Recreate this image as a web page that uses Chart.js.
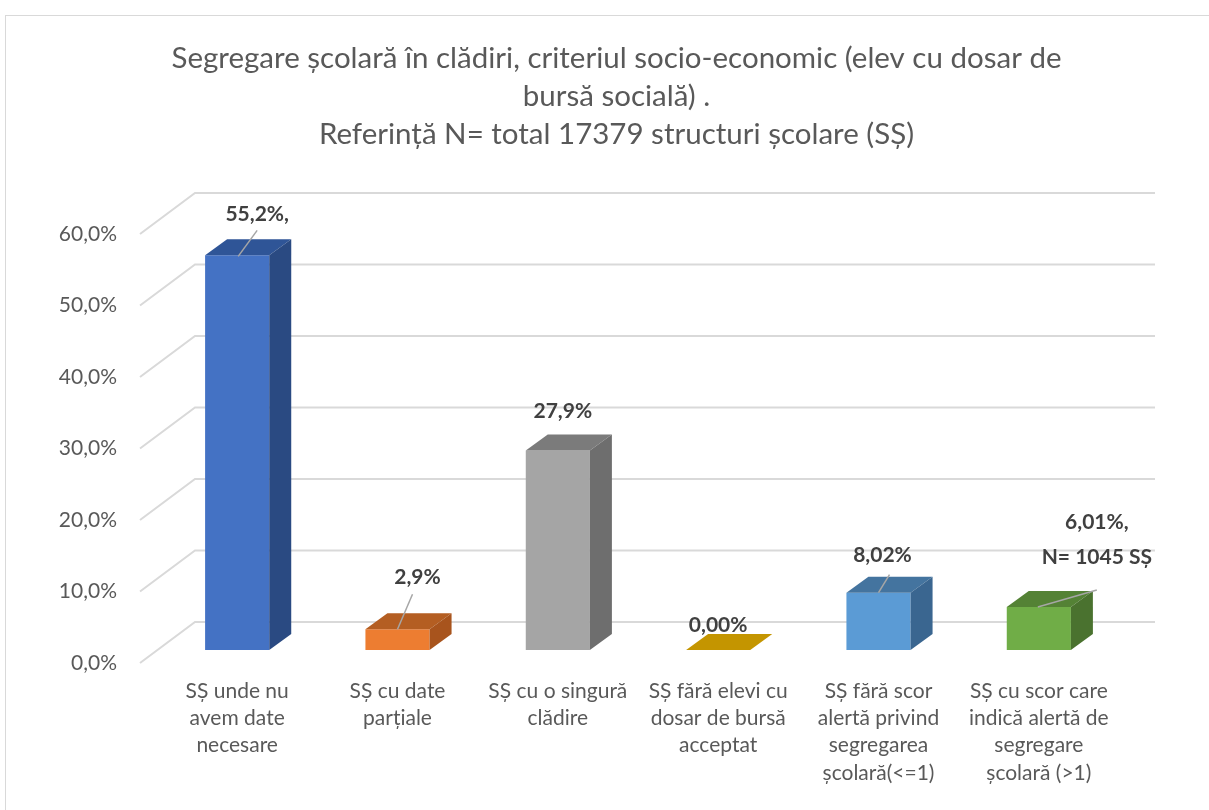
<!DOCTYPE html>
<html>
<head>
<meta charset="utf-8">
<script src="https://cdn.jsdelivr.net/npm/chart.js@4.4.1/dist/chart.umd.min.js"></script>
<style>
  body { margin: 0; background: #fff; overflow: hidden; }
  #frame { position: absolute; left: 5px; top: 15px; width: 1400px; height: 1000px; border: 1.5px solid #d9d9d9; }
  #wrap { position: absolute; left: 0; top: 0; width: 1209px; height: 810px; }
</style>
</head>
<body>
<div id="frame"></div>
<div id="wrap"><canvas id="chart" width="1209" height="810"></canvas></div>
<script>
// ---------- DATA ----------
const titleLines = [
  "Segregare școlară în clădiri, criteriul socio-economic (elev cu dosar de",
  "bursă socială) .",
  "Referință N= total 17379 structuri școlare (SȘ)"
];

const categories = [
  ["SȘ unde nu", "avem date", "necesare"],
  ["SȘ cu date", "parțiale"],
  ["SȘ cu o singură", "clădire"],
  ["SȘ fără elevi cu", "dosar de bursă", "acceptat"],
  ["SȘ fără scor", "alertă privind", "segregarea", "școlară(<=1)"],
  ["SȘ cu scor care", "indică alertă de", "segregare", "școlară (>1)"]
];

const values = [55.2, 2.9, 27.9, 0, 8.02, 6.01];
const valueLabels = [["55,2%,"], ["2,9%"], ["27,9%"], ["0,00%"], ["8,02%"], ["6,01%,", "N= 1045 SȘ"]];

const yMin = 0;
const yMax = 60;
const yStep = 10;

// ---------- STYLE ----------
const frontColors = ["#4472C4", "#ED7D31", "#A5A5A5", "#FFC000", "#5B9BD5", "#70AD47"];
const topColors = ["#2F5597", "#B45E22", "#7B7B7B", "#C49500", "#44749F", "#548235"];
const sideColors = ["#2A4A82", "#A8541D", "#6E6E6E", "#B08600", "#3A6690", "#4A722F"];

// label offset from the bar's front top centre, and leader line (from, to) in the same frame
const labelShift = [[20, -41], [20, -52], [5, -39], [0, -25], [4, -37], [58, -67]];
const leaders = [[[1, 1], [20, -25]], [[0, 0], [15, -35]], null, null, [[0, 0], [11, -18]], [[-1, 0], [58, -17]]];

const FONT = "Lato, 'Open Sans', sans-serif";
const depth = { dx: 22, dy: -16 };

// back wall + diagonal gridlines
const wallPlugin = {
  id: "wall",
  beforeDatasetsDraw(chart) {
    const ctx = chart.ctx;
    const y = chart.scales.y;
    const area = chart.chartArea;
    ctx.save();
    ctx.strokeStyle = "#d9d9d9";
    ctx.lineWidth = 2;
    for (let v = yMin; v <= yMax; v += yStep) {
      const py = y.getPixelForValue(v);
      ctx.beginPath();
      ctx.moveTo(area.left - 17, py + 13);
      ctx.lineTo(area.left + 38, py - 28);
      ctx.lineTo(area.right + 36, py - 28);
      ctx.stroke();
    }
    ctx.restore();
  }
};

// 3D faces and data labels
const boxPlugin = {
  id: "box3d",
  afterDatasetsDraw(chart) {
    const ctx = chart.ctx;
    ctx.save();
    chart.getDatasetMeta(0).data.forEach((bar, i) => {
      const l = bar.x - bar.width / 2, r = bar.x + bar.width / 2, t = bar.y, b = bar.base;
      ctx.fillStyle = topColors[i];
      ctx.beginPath();
      ctx.moveTo(l, t);
      ctx.lineTo(l + depth.dx, t + depth.dy);
      ctx.lineTo(r + depth.dx, t + depth.dy);
      ctx.lineTo(r, t);
      ctx.closePath();
      ctx.fill();
      ctx.fillStyle = sideColors[i];
      ctx.beginPath();
      ctx.moveTo(r, t);
      ctx.lineTo(r + depth.dx, t + depth.dy);
      ctx.lineTo(r + depth.dx, b + depth.dy);
      ctx.lineTo(r, b);
      ctx.closePath();
      ctx.fill();
    });

    chart.getDatasetMeta(0).data.forEach((bar, i) => {
      const ld = leaders[i];
      if (ld) {
        ctx.strokeStyle = "#a6a6a6";
        ctx.lineWidth = 1.5;
        ctx.beginPath();
        ctx.moveTo(bar.x + ld[0][0], bar.y + ld[0][1]);
        ctx.lineTo(bar.x + ld[1][0], bar.y + ld[1][1]);
        ctx.stroke();
      }
      const lines = valueLabels[i];
      const cx = bar.x + labelShift[i][0];
      const cy = bar.y + labelShift[i][1];
      ctx.fillStyle = "#404040";
      ctx.font = "bold 21px " + FONT;
      ctx.textAlign = "center";
      ctx.textBaseline = "middle";
      const lh = 35;
      lines.forEach((s, k) => {
        ctx.fillText(s, cx, cy + (k - (lines.length - 1) / 2) * lh);
      });
    });
    ctx.restore();
  }
};

new Chart(document.getElementById("chart"), {
  type: "bar",
  data: {
    labels: categories,
    datasets: [{
      data: values,
      backgroundColor: frontColors,
      borderWidth: 0,
      categoryPercentage: 1,
      barPercentage: 0.4
    }]
  },
  options: {
    responsive: false,
    animation: false,
    layout: { padding: { left: 30, right: 6, top: 0, bottom: 0 } },
    plugins: {
      legend: { display: false },
      tooltip: { enabled: false },
      title: {
        display: true,
        text: titleLines,
        color: "#595959",
        font: { family: FONT, size: 29.5, weight: "normal", lineHeight: 1.3 },
        padding: { top: 39, bottom: 67 }
      }
    },
    scales: {
      x: {
        grid: { display: false, drawTicks: false },
        border: { display: false },
        ticks: {
          color: "#595959",
          font: { family: FONT, size: 21, lineHeight: 1.29 },
          padding: 28,
          maxRotation: 0,
          autoSkip: false
        },
        afterFit(scale) { scale.height = 160; }
      },
      y: {
        min: yMin,
        max: yMax,
        grid: { display: false, drawTicks: false },
        border: { display: false },
        ticks: {
          stepSize: yStep,
          color: "#595959",
          font: { family: FONT, size: 21 },
          padding: 40,
          labelOffset: 13,
          callback: v => v.toFixed(1).replace(".", ",") + "%"
        },
        afterFit(scale) { scale.width = 127; }
      },
      // empty right-hand spacer so the title stays centred on the whole frame
      spacer: {
        type: "linear",
        position: "right",
        grid: { display: false, drawTicks: false },
        border: { display: false },
        ticks: { display: false },
        afterFit(scale) { scale.width = 84; }
      }
    }
  },
  plugins: [wallPlugin, boxPlugin]
});
</script>
</body>
</html>
